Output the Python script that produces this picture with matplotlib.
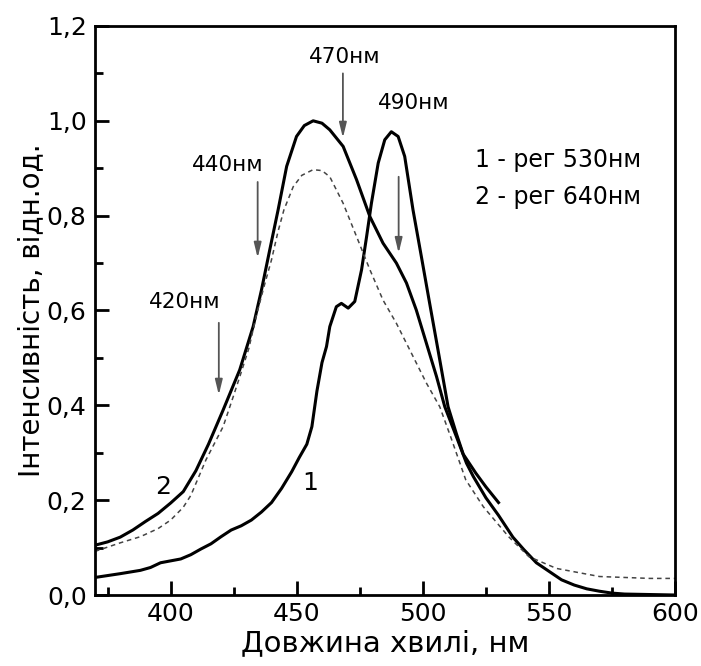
import numpy as np
import matplotlib
matplotlib.use('Agg')
import matplotlib.pyplot as plt
from matplotlib.ticker import MultipleLocator

plt.rcParams['font.family'] = ['DejaVu Sans']

# крива 1 - реєстрація 530 нм
x1 = [370, 380, 388, 392, 396, 400, 404, 408, 412, 416, 420, 424, 428, 432, 436, 440,
      444, 448, 451, 454, 456, 458, 460, 461.8, 463.1, 465.7, 467.7, 470.4, 473, 475.7,
      477.7, 479.6, 482.3, 484.9, 487.5, 490.2, 492.8, 496.1, 499.4, 502.7, 506, 510,
      513.3, 516, 521, 525, 530]
y1 = [0.037, 0.045, 0.052, 0.058, 0.068, 0.072, 0.076, 0.085, 0.097, 0.108, 0.123,
      0.137, 0.146, 0.158, 0.175, 0.195, 0.225, 0.26, 0.29, 0.318, 0.355, 0.43, 0.49,
      0.524, 0.566, 0.608, 0.615, 0.605, 0.619, 0.686, 0.756, 0.826, 0.911, 0.96, 0.977,
      0.967, 0.925, 0.812, 0.714, 0.615, 0.517, 0.397, 0.34, 0.297, 0.257, 0.228, 0.195]

# крива 2 - реєстрація 640 нм
x2 = [370, 375, 380, 385, 390, 395, 400, 405, 410, 415, 420.8, 427.4, 432.7, 436, 439.3,
      442.6, 446, 449.9, 453, 456.5, 460, 463.1, 468.4, 473.7, 479, 484.2, 489.5, 493.5,
      497.4, 501.4, 505.4, 508.7, 513.3, 517.3, 520, 525, 530, 535.7, 540, 545, 550, 555,
      560, 565, 570, 575, 580, 590, 600]
y2 = [0.105, 0.112, 0.122, 0.137, 0.155, 0.172, 0.194, 0.218, 0.262, 0.318, 0.39, 0.475,
      0.566, 0.643, 0.728, 0.812, 0.904, 0.967, 0.99, 1.0, 0.995, 0.981, 0.946, 0.876,
      0.798, 0.742, 0.70, 0.658, 0.601, 0.531, 0.461, 0.397, 0.334, 0.278, 0.25, 0.205,
      0.168, 0.122, 0.096, 0.068, 0.05, 0.032, 0.021, 0.013, 0.008, 0.004, 0.002, 0.001,
      0.0]

# пунктирна крива
x3 = [370, 380, 388, 395, 400, 405, 408, 414, 420.8, 424.8, 428, 431, 434, 437, 440,
      442.5, 444.9, 448.6, 452, 456.5, 460, 463.1, 468.4, 473.7, 479, 484.2, 489.5, 494.8,
      501.4, 506.7, 511, 517, 524, 534, 542, 553, 570, 590, 600]
y3 = [0.092, 0.11, 0.123, 0.14, 0.158, 0.185, 0.21, 0.285, 0.355, 0.418, 0.47, 0.52,
      0.59, 0.65, 0.707, 0.765, 0.812, 0.861, 0.885, 0.897, 0.895, 0.882, 0.826, 0.756,
      0.686, 0.622, 0.573, 0.517, 0.447, 0.397, 0.334, 0.243, 0.186, 0.123, 0.081, 0.056,
      0.039, 0.035, 0.035]

# стрілки: підпис, положення підпису, початок і кінець стрілки
arrow_labels = ['470нм', '490нм', '440нм', '420нм']
label_pos = [(469.1, 1.135), (496.4, 1.038), (422.7, 0.907), (405.7, 0.618)]
arrow_x = [468.3, 490.4, 434.5, 419.1]
arrow_from = [1.10, 0.882, 0.871, 0.574]
arrow_to = [0.964, 0.721, 0.711, 0.422]

yticks = [0.0, 0.2, 0.4, 0.6, 0.8, 1.0, 1.2]
yticklabels = ['0,0', '0,2', '0,4', '0,6', '0,8', '1,0', '1,2']

fig = plt.figure(figsize=(7.01, 6.66), dpi=100)
ax = fig.add_axes([0.1355, 0.1066, 0.8275, 0.8544])

ax.plot(x1, y1, color='black', lw=2.2, solid_joinstyle='round')
ax.plot(x2, y2, color='black', lw=2.2, solid_joinstyle='round')
ax.plot(x3, y3, color='#444444', lw=1.1, ls=(0, (3, 2.5)))

for lab, pos, xa, ya, yb in zip(arrow_labels, label_pos, arrow_x, arrow_from, arrow_to):
    ax.annotate('', xy=(xa, yb), xytext=(xa, ya),
                arrowprops=dict(arrowstyle='-|>,head_length=0.9,head_width=0.22',
                                color='#555555', lw=1.3, shrinkA=0, shrinkB=0))
    ax.text(pos[0], pos[1], lab, fontsize=15.5, ha='center', va='center')

ax.text(520.6, 0.918, '1 - рег 530нм', fontsize=17, ha='left', va='center')
ax.text(520.6, 0.84, '2 - рег 640нм', fontsize=17, ha='left', va='center')
ax.text(396.9, 0.228, '2', fontsize=18, ha='center', va='center')
ax.text(455.2, 0.236, '1', fontsize=18, ha='center', va='center')

ax.set_xlim(370, 600)
ax.set_ylim(0, 1.2)
ax.set_xticks([400, 450, 500, 550, 600])
ax.xaxis.set_minor_locator(MultipleLocator(25))
ax.set_yticks(yticks)
ax.set_yticklabels(yticklabels)
ax.yaxis.set_minor_locator(MultipleLocator(0.1))
ax.tick_params(which='both', direction='in', width=2, labelsize=18)
ax.tick_params(which='major', length=10)
ax.tick_params(which='minor', length=6)
ax.tick_params(axis='x', pad=5)
ax.tick_params(axis='y', pad=6)
for s in ax.spines.values():
    s.set_linewidth(2)

ax.set_xlabel('Довжина хвилі, нм', fontsize=21, labelpad=2)
ax.set_ylabel('Інтенсивність, відн.од.', fontsize=20, labelpad=1)

fig.savefig('out.png', dpi=100)
